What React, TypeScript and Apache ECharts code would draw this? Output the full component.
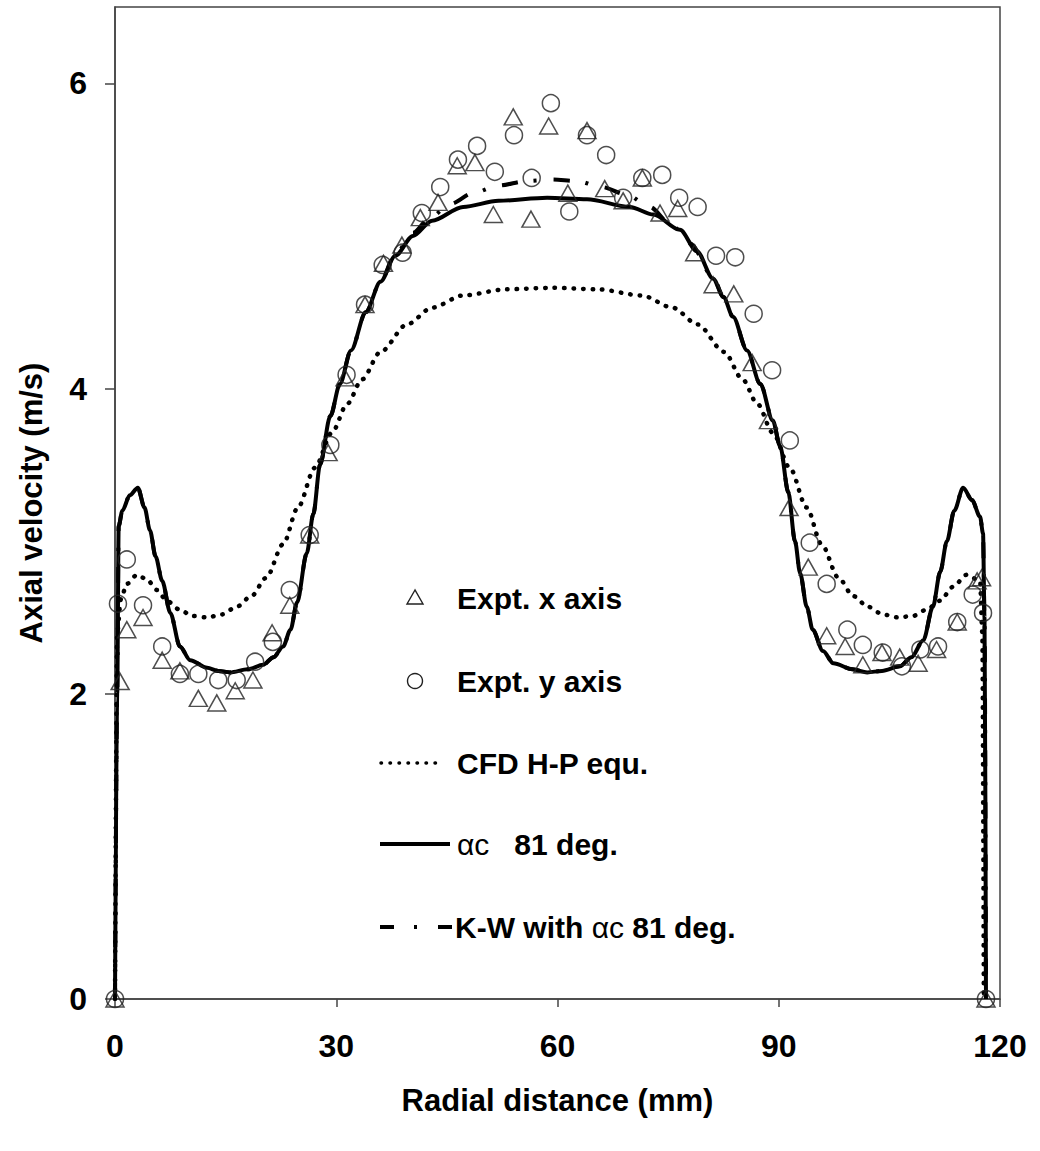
import React, { useEffect, useRef } from "react";
import * as echarts from "echarts";

// ---- Data ----
const xTicks = [0, 30, 60, 90, 120];
const yTicks = [0, 2, 4, 6];

const exptX: [number, number][] = [
  [0, 0], [0.7, 2.08], [1.6, 2.42], [3.8, 2.5], [6.4, 2.22], [8.8, 2.15], [11.3, 1.97], [13.8, 1.94],
  [16.3, 2.02], [18.7, 2.09], [21.3, 2.4], [23.7, 2.58], [26.4, 3.04], [28.9, 3.58], [31.2, 4.07],
  [33.9, 4.55], [36.4, 4.82], [38.9, 4.94], [41.4, 5.12], [43.8, 5.22], [46.4, 5.46], [48.8, 5.48],
  [51.3, 5.14], [54, 5.78], [56.4, 5.11], [58.8, 5.72], [61.4, 5.28], [64, 5.69], [66.4, 5.31],
  [68.9, 5.23], [71.5, 5.38], [73.9, 5.15], [76.3, 5.18], [78.6, 4.89], [81.1, 4.68], [83.9, 4.62],
  [86.4, 4.17], [88.6, 3.79], [91.4, 3.22], [94, 2.83], [96.5, 2.38], [99, 2.31], [101.4, 2.19],
  [104, 2.27], [106.4, 2.24], [108.9, 2.2], [111.4, 2.29], [114.2, 2.47], [116.9, 2.74], [117.5, 2.76],
  [118.1, 0],
];

const exptY: [number, number][] = [
  [0, 0], [0.4, 2.59], [1.6, 2.88], [3.8, 2.58], [6.4, 2.31], [8.8, 2.13], [11.3, 2.13], [14, 2.09],
  [16.5, 2.09], [19, 2.21], [21.4, 2.34], [23.7, 2.68], [26.4, 3.04], [29.2, 3.63], [31.4, 4.09],
  [33.9, 4.55], [36.3, 4.81], [39, 4.89], [41.6, 5.15], [44.1, 5.32], [46.5, 5.5], [49.1, 5.59],
  [51.5, 5.42], [54.1, 5.66], [56.5, 5.38], [59.1, 5.87], [61.6, 5.16], [64, 5.66], [66.6, 5.53],
  [68.9, 5.25], [71.5, 5.38], [74.2, 5.4], [76.5, 5.25], [79, 5.19], [81.5, 4.87], [84.1, 4.86],
  [86.6, 4.49], [89.1, 4.12], [91.5, 3.66], [94.2, 2.99], [96.5, 2.72], [99.3, 2.42], [101.4, 2.32],
  [104.1, 2.27], [106.7, 2.18], [109.2, 2.29], [111.6, 2.31], [114.2, 2.47], [116.3, 2.65], [117.7, 2.53],
  [118.1, 0],
];

const cfdHP: [number, number][] = [
  [0, 0], [0.3, 2.4], [0.8, 2.62], [1.6, 2.72], [3, 2.78], [4.3, 2.75], [5.7, 2.68], [7, 2.61],
  [8.8, 2.55], [10.5, 2.51], [12.5, 2.5], [14.5, 2.52], [16.5, 2.57], [18.5, 2.64], [20.5, 2.76],
  [22.8, 2.98], [24.8, 3.22], [27.1, 3.48], [29.4, 3.71], [31.5, 3.9], [33.5, 4.06], [36, 4.24],
  [39.6, 4.42], [43, 4.53], [47.2, 4.61], [53, 4.65], [59.3, 4.66], [65.5, 4.65], [71.4, 4.61],
  [75.6, 4.53], [79, 4.42], [82.6, 4.24], [85.1, 4.06], [87.1, 3.9], [89.2, 3.71], [91.5, 3.48],
  [93.8, 3.22], [95.8, 2.98], [98.1, 2.76], [100.1, 2.64], [102.1, 2.57], [104.1, 2.52], [106.2, 2.5],
  [108.2, 2.51], [110, 2.55], [111.9, 2.61], [113.6, 2.7], [115.5, 2.78], [117.3, 2.74], [117.6, 2.4],
  [117.8, 0],
];

const alpha81: [number, number][] = [
  [0, 0], [0.3, 2.0], [0.5, 3.1], [1, 3.2], [2, 3.3], [3.1, 3.35], [4, 3.22], [4.75, 3.07],
  [5.5, 2.9], [6.4, 2.74], [7.5, 2.53], [8.8, 2.31], [10.2, 2.22], [12.5, 2.17], [14, 2.15],
  [15.6, 2.14], [18, 2.16], [20.1, 2.19], [21.5, 2.24], [22.8, 2.31], [23.8, 2.42], [24.7, 2.6],
  [26, 2.92], [26.9, 3.18], [27.8, 3.5], [29.2, 3.82], [30.5, 4.03], [32, 4.25], [34, 4.5],
  [36, 4.7], [38, 4.87], [40.4, 5.0], [43, 5.1], [47.2, 5.19], [52, 5.23], [58.6, 5.25],
  [64, 5.24], [69.8, 5.19], [73, 5.14], [76.6, 5.04], [78.9, 4.9], [81.1, 4.72], [82.5, 4.6],
  [83.8, 4.47], [85.7, 4.25], [87.5, 4.03], [89.2, 3.79], [90.2, 3.62], [91.3, 3.32], [92.2, 3.0],
  [92.9, 2.79], [93.8, 2.57], [94.6, 2.42], [96, 2.28], [97.4, 2.2], [100, 2.16], [102, 2.14],
  [104, 2.15], [106.4, 2.18], [108, 2.24], [109.6, 2.35], [110.9, 2.57], [111.9, 2.8], [112.8, 3.0],
  [113.8, 3.2], [115, 3.35], [116.2, 3.27], [117.3, 3.16], [117.7, 3.05], [117.9, 2.5], [118.1, 0],
];

const kwAlpha81: [number, number][] = [
  [0, 0], [0.3, 2.0], [0.5, 3.1], [1, 3.2], [2, 3.3], [3.1, 3.35], [4, 3.22], [4.75, 3.07],
  [5.5, 2.9], [6.4, 2.74], [7.5, 2.53], [8.8, 2.31], [10.2, 2.22], [12.5, 2.17], [14, 2.15],
  [15.6, 2.14], [18, 2.16], [20.1, 2.19], [21.5, 2.24], [22.8, 2.31], [23.8, 2.42], [24.7, 2.6],
  [26, 2.92], [26.9, 3.18], [27.8, 3.5], [29.2, 3.82], [30.5, 4.03], [32, 4.25], [34, 4.5],
  [36, 4.7], [38, 4.88], [40.4, 5.02], [42.7, 5.12], [45.5, 5.21], [48.5, 5.28], [52, 5.33],
  [55.9, 5.36], [59.3, 5.37], [62.6, 5.36], [66, 5.32], [69.4, 5.27], [72.5, 5.19], [75.3, 5.08],
  [78, 4.95], [81.1, 4.73], [82.5, 4.6], [83.8, 4.47], [85.7, 4.25], [87.5, 4.03], [89.2, 3.79],
  [90.2, 3.62], [91.3, 3.32], [92.2, 3.0], [92.9, 2.79], [93.8, 2.57], [94.6, 2.42], [96, 2.28],
  [97.4, 2.2], [100, 2.16], [102, 2.14], [104, 2.15], [106.4, 2.18], [108, 2.24], [109.6, 2.35],
  [110.9, 2.57], [111.9, 2.8], [112.8, 3.0], [113.8, 3.2], [115, 3.35], [116.2, 3.27], [117.3, 3.16],
  [117.7, 3.05], [117.9, 2.5], [118.1, 0],
];

const legendLabels = ["Expt. x axis", "Expt. y axis", "CFD H-P equ.", "αc   81 deg.", "K-W with αc 81 deg."];

const FONT = "'Liberation Sans', Arial, Helvetica, sans-serif";
const AXIS_COLOR = "#444";
const MARK_COLOR = "#222";

export default function App() {
  const ref = useRef<HTMLDivElement>(null);

  useEffect(() => {
    document.body.style.margin = "0";
    if (!ref.current) return;
    const chart = echarts.init(ref.current, null, { renderer: "svg" });

    const legendTextX = 457;
    const rows = [598, 681, 763, 844, 927];
    const bold = { fontFamily: FONT, fontWeight: "bold" as const, fontSize: 30, fill: "#000" };
    const reg = { fontFamily: FONT, fontWeight: "normal" as const, fontSize: 30, fill: "#000" };

    const graphic: any[] = [
      {
        type: "polygon",
        shape: { points: [[415, rows[0] - 8], [407, rows[0] + 6], [423, rows[0] + 6]] },
        style: { fill: "none", stroke: MARK_COLOR, lineWidth: 1.4 },
      },
      {
        type: "text", x: legendTextX, y: rows[0],
        style: { text: legendLabels[0], ...bold, verticalAlign: "middle", align: "left" },
      },
      {
        type: "circle",
        shape: { cx: 415, cy: rows[1], r: 7.5 },
        style: { fill: "none", stroke: MARK_COLOR, lineWidth: 1.4 },
      },
      {
        type: "text", x: legendTextX, y: rows[1],
        style: { text: legendLabels[1], ...bold, verticalAlign: "middle", align: "left" },
      },
      {
        type: "line",
        shape: { x1: 381, y1: rows[2], x2: 441, y2: rows[2] },
        style: { stroke: "#000", lineWidth: 3.5, lineDash: [0.5, 8.5], lineCap: "round" },
      },
      {
        type: "text", x: legendTextX, y: rows[2],
        style: { text: legendLabels[2], ...bold, verticalAlign: "middle", align: "left" },
      },
      {
        type: "line",
        shape: { x1: 380, y1: rows[3], x2: 450, y2: rows[3] },
        style: { stroke: "#000", lineWidth: 4 },
      },
      {
        type: "text", x: legendTextX, y: rows[3],
        style: {
          text: "{r|αc}{b|   81 deg.}",
          verticalAlign: "middle", align: "left",
          rich: { r: { ...reg }, b: { ...bold } },
        },
      },
      {
        type: "line",
        shape: { x1: 380, y1: rows[4], x2: 452, y2: rows[4] },
        style: { stroke: "#000", lineWidth: 4, lineDash: [14, 20, 3, 21, 14] },
      },
      {
        type: "text", x: legendTextX - 2, y: rows[4],
        style: {
          text: "{b|K-W with }{r|αc}{b| 81 deg.}",
          verticalAlign: "middle", align: "left",
          rich: { r: { ...reg }, b: { ...bold } },
        },
      },
    ];

    chart.setOption({
      animation: false,
      backgroundColor: "#fff",
      grid: {
        left: 115, top: 7, width: 885, height: 992,
        show: true, borderColor: AXIS_COLOR, borderWidth: 1.5, backgroundColor: "transparent",
      },
      xAxis: {
        type: "value", min: 0, max: 120, interval: 30,
        name: "Radial distance (mm)", nameLocation: "middle", nameGap: 86,
        nameTextStyle: { fontFamily: FONT, fontWeight: "bold", fontSize: 31, color: "#000" },
        axisLine: { show: true, lineStyle: { color: AXIS_COLOR, width: 1.5 } },
        axisTick: { show: true, inside: false, length: 8, lineStyle: { color: AXIS_COLOR, width: 1.5 }, customValues: xTicks },
        axisLabel: { margin: 31, fontFamily: FONT, fontWeight: "bold", fontSize: 32, color: "#000", customValues: xTicks },
        splitLine: { show: false },
      },
      yAxis: {
        type: "value", min: 0, max: 6.5, interval: 2,
        name: "Axial velocity (m/s)", nameLocation: "middle", nameGap: 68, nameRotate: 90,
        nameTextStyle: { fontFamily: FONT, fontWeight: "bold", fontSize: 31, color: "#000" },
        axisLine: { show: true, lineStyle: { color: AXIS_COLOR, width: 1.5 } },
        axisTick: { show: true, inside: false, length: 10, lineStyle: { color: AXIS_COLOR, width: 1.5 }, customValues: yTicks },
        axisLabel: { margin: 28, fontFamily: FONT, fontWeight: "bold", fontSize: 32, color: "#000", customValues: yTicks },
        splitLine: { show: false },
      },
      series: [
        {
          name: "CFD H-P equ.", type: "line", data: cfdHP, showSymbol: false,
          smooth: 0.3, smoothMonotone: "x",
          lineStyle: { color: "#000", width: 4.5, type: [0.5, 9], cap: "round" },
          z: 2,
        },
        {
          name: "αc 81 deg.", type: "line", data: alpha81, showSymbol: false,
          smooth: 0.3, smoothMonotone: "x",
          lineStyle: { color: "#000", width: 4, type: "solid" },
          z: 3,
        },
        {
          name: "K-W with αc 81 deg.", type: "line", data: kwAlpha81, showSymbol: false,
          smooth: 0.3, smoothMonotone: "x",
          lineStyle: { color: "#000", width: 4, type: [16, 16, 3, 17] },
          z: 4,
        },
        {
          name: "Expt. x axis", type: "scatter", data: exptX,
          symbol: "triangle", symbolSize: [18, 16],
          itemStyle: { color: "rgba(0,0,0,0)", borderColor: MARK_COLOR, borderWidth: 1.5 },
          z: 5,
        },
        {
          name: "Expt. y axis", type: "scatter", data: exptY,
          symbol: "circle", symbolSize: 17,
          itemStyle: { color: "rgba(0,0,0,0)", borderColor: MARK_COLOR, borderWidth: 1.5 },
          z: 5,
        },
      ],
      graphic,
    });

    return () => chart.dispose();
  }, []);

  return <div ref={ref} style={{ width: 1040, height: 1151 }} />;
}
